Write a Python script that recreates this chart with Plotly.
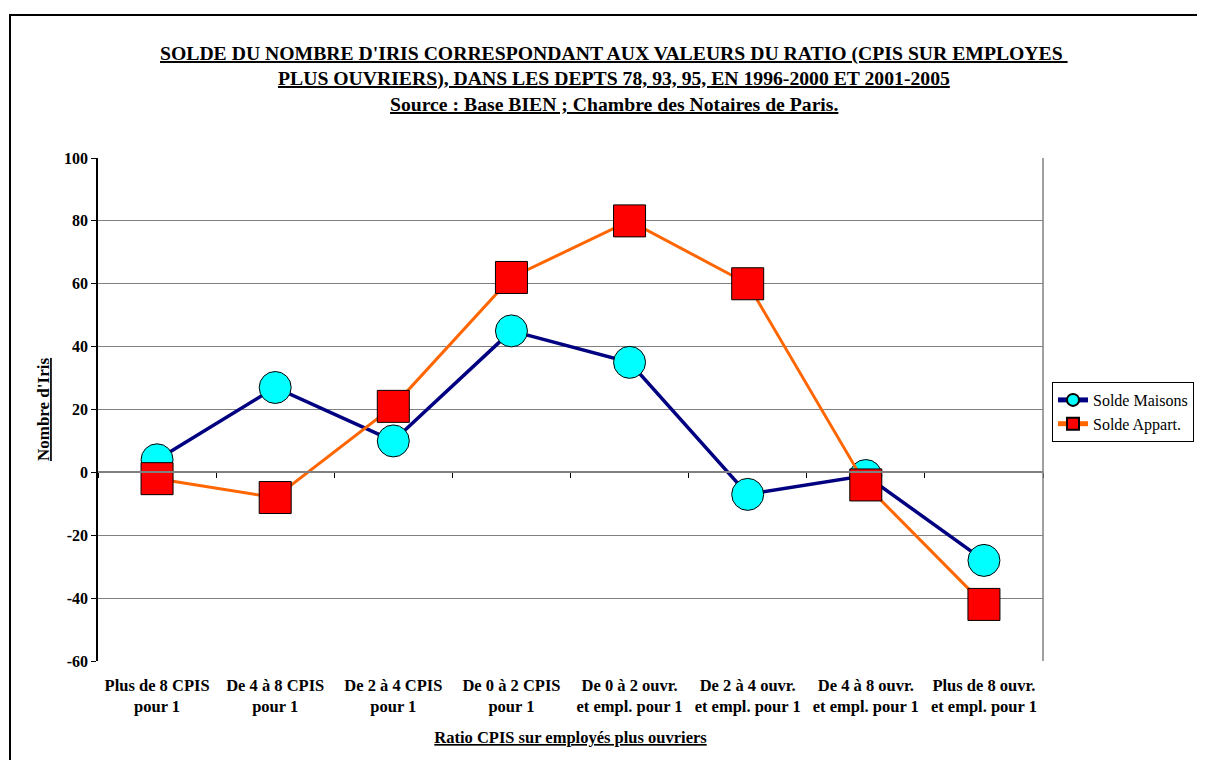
import plotly.graph_objects as go

categories = [
    "Plus de 8 CPIS<br>pour 1",
    "De 4 à 8 CPIS<br>pour 1",
    "De 2 à 4 CPIS<br>pour 1",
    "De 0 à 2 CPIS<br>pour 1",
    "De 0 à 2 ouvr.<br>et empl. pour 1",
    "De 2 à 4 ouvr.<br>et empl. pour 1",
    "De 4 à 8 ouvr.<br>et empl. pour 1",
    "Plus de 8 ouvr.<br>et empl. pour 1",
]
solde_maisons = [4, 27, 10, 45, 35, -7, -1, -28]
solde_appart = [-2, -8, 21, 62, 80, 60, -4, -42]
y_ticks = [-60, -40, -20, 0, 20, 40, 60, 80, 100]
y_tick_labels = ["-60", "-40", "-20", "0", "20", "40", "60", "80", "100"]

title_lines = [
    "SOLDE DU NOMBRE D'IRIS CORRESPONDANT AUX VALEURS DU RATIO (CPIS SUR EMPLOYES ",
    "PLUS OUVRIERS), DANS LES DEPTS 78, 93, 95, EN 1996-2000 ET 2001-2005",
    "Source : Base BIEN ; Chambre des Notaires de Paris.",
]
x_title = "Ratio CPIS sur employés plus ouvriers"
y_title = "Nombre d'Iris"

FONT = "Liberation Serif, Times New Roman, serif"

# page body margin offset (screen pixels = figure pixels + OFF)
OFF = 8
W, H = 1205 - OFF, 760 - OFF
# plot-area geometry in screen pixels
L, R, T, B = 98, 1043, 158, 661
pw, ph = R - L, B - T

def px_x(x):
    return (x - L) / pw

def px_y(y):
    return (B - y) / ph

fig = go.Figure()

fig.add_trace(go.Scatter(
    x=categories, y=solde_maisons, name="Solde Maisons",
    mode="lines+markers",
    line=dict(color="#000080", width=3.5),
    marker=dict(symbol="circle", size=32, color="#00FFFF",
                line=dict(color="black", width=1)),
))
fig.add_trace(go.Scatter(
    x=categories, y=solde_appart, name="Solde Appart.",
    mode="lines+markers",
    line=dict(color="#FF6600", width=3),
    marker=dict(symbol="square", size=32, color="#FF0000",
                line=dict(color="black", width=1)),
))
# dummy trace carrying the category axis drawn at y = 0
fig.add_trace(go.Scatter(
    x=categories, y=[None] * len(categories), xaxis="x2",
    showlegend=False, hoverinfo="skip", mode="lines",
))

zero_pos = (0 - y_ticks[0]) / (y_ticks[-1] - y_ticks[0])

fig.update_layout(
    width=W, height=H,
    margin=dict(l=L - OFF, r=W - (R - OFF), t=T - OFF, b=H - (B - OFF),
                autoexpand=False),
    paper_bgcolor="white", plot_bgcolor="white",
    font=dict(family=FONT, color="black"),
    showlegend=True,
    legend=dict(
        x=px_x(1052), y=px_y(382), xanchor="left", yanchor="top",
        bordercolor="black", borderwidth=1, bgcolor="white",
        font=dict(family=FONT, size=16, color="black"),
        itemsizing="constant", tracegroupgap=0,
    ),
    xaxis=dict(
        type="category", categoryorder="array", categoryarray=categories,
        range=[-0.5, len(categories) - 0.5],
        showgrid=False, zeroline=False, showline=False, ticks="",
        tickfont=dict(family=FONT, size=16.5, color="black", weight="bold"),
        ticklabelstandoff=12, automargin=False,
        title=dict(text="<u>" + x_title + "</u>",
                   font=dict(family=FONT, size=16.5, color="black", weight="bold"),
                   standoff=16),
    ),
    xaxis2=dict(
        type="category", categoryorder="array", categoryarray=categories,
        overlaying="x", anchor="free", position=zero_pos,
        range=[-0.5, len(categories) - 0.5], automargin=False,
        showgrid=False, zeroline=False, showline=True, linecolor="#808080",
        linewidth=1.5, ticks="outside", tickson="boundaries", ticklen=5,
        tickcolor="black", tickwidth=1, showticklabels=False,
    ),
    yaxis=dict(
        range=[y_ticks[0], y_ticks[-1]], tickvals=y_ticks,
        ticktext=y_tick_labels, automargin=False,
        showgrid=True, gridcolor="#808080", gridwidth=1,
        zeroline=False, showline=True, linecolor="black", linewidth=1.5,
        ticks="outside", ticklen=5, tickcolor="black",
        tickfont=dict(family=FONT, size=16, color="black", weight="bold"),
        title=dict(text="<u>" + y_title + "</u>",
                   font=dict(family=FONT, size=17, color="black", weight="bold"),
                   standoff=10),
    ),
)

# right border of plot area
fig.add_shape(type="line", xref="paper", yref="paper", x0=1, x1=1, y0=0, y1=1,
              line=dict(color="#808080", width=1.5))
# outer chart border (top and left visible)
fig.add_shape(type="rect", xref="paper", yref="paper",
              x0=px_x(10), x1=px_x(1300), y0=px_y(820), y1=px_y(15),
              line=dict(color="black", width=2), layer="below")

title_baselines = [62, 87, 112]
for txt, yb in zip(title_lines, title_baselines):
    fig.add_annotation(
        text="<b><u>" + txt + "</u></b>", xref="paper", yref="paper",
        x=px_x(614), y=px_y(yb + 5), xanchor="center", yanchor="bottom",
        showarrow=False,
        font=dict(family=FONT, size=19.7, color="black"),
    )

fig.write_html("out.html")
